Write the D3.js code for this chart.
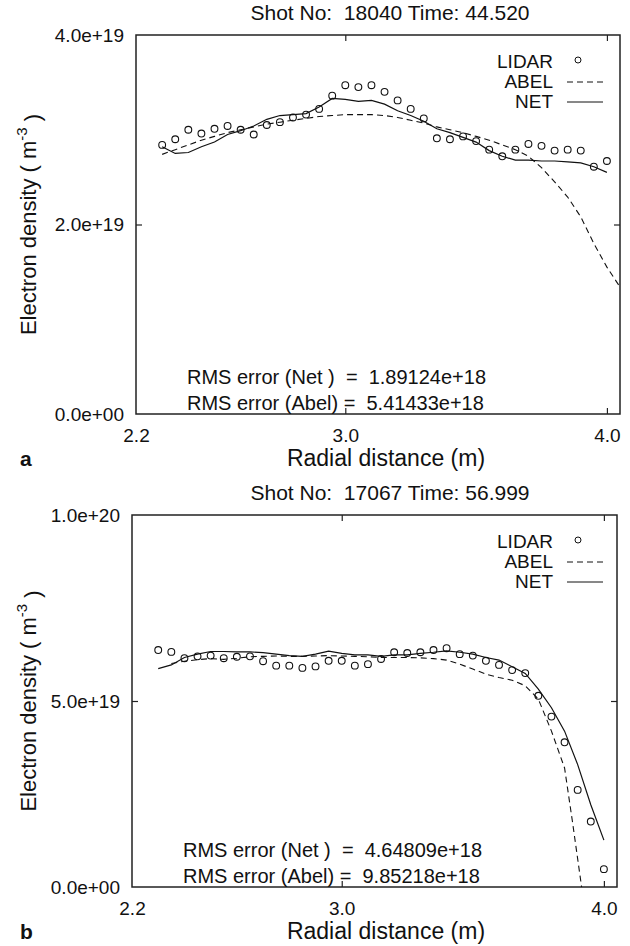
<!DOCTYPE html>
<html>
<head>
<meta charset="utf-8">
<script src="https://cdn.jsdelivr.net/npm/d3@7"></script>
<style>
  body { margin: 0; background: #fff; }
  svg { display: block; font-family: "Liberation Sans", Arial, sans-serif; }
  .tick text { font-size: 19px; fill: #111; }
  .tick line { stroke: #222; stroke-width: 1.2; }
  .pre { white-space: pre; }
</style>
</head>
<body>
<svg width="630" height="946"></svg>
<script>
// radial positions of the lidar samples (m)
const radial = [2.30, 2.35, 2.40, 2.45, 2.50, 2.55, 2.60, 2.65, 2.70, 2.75,
                2.80, 2.85, 2.90, 2.95, 3.00, 3.05, 3.10, 3.15, 3.20, 3.25,
                3.30, 3.35, 3.40, 3.45, 3.50, 3.55, 3.60, 3.65, 3.70, 3.75,
                3.80, 3.85, 3.90, 3.95, 4.00];

// panel a, shot 18040 (density in 1e19 m^-3)
const lidarA = [2.84, 2.90, 3.00, 2.96, 3.01, 3.04, 3.00, 2.95, 3.05, 3.08,
                3.13, 3.16, 3.22, 3.36, 3.47, 3.45, 3.47, 3.40, 3.31, 3.22,
                3.12, 2.91, 2.90, 2.93, 2.88, 2.79, 2.72, 2.79, 2.85, 2.83,
                2.78, 2.79, 2.78, 2.61, 2.67];
const netA = [2.82, 2.75, 2.76, 2.82, 2.87, 2.95, 2.99, 3.04, 3.11, 3.15,
              3.16, 3.17, 3.24, 3.33, 3.32, 3.30, 3.31, 3.27, 3.20, 3.15,
              3.09, 3.01, 2.97, 2.92, 2.87, 2.78, 2.72, 2.68, 2.68, 2.67,
              2.67, 2.66, 2.65, 2.61, 2.55];
const abelAx = [2.30, 2.35, 2.40, 2.45, 2.50, 2.55, 2.60, 2.65, 2.70, 2.75,
                2.80, 2.85, 2.90, 2.95, 3.00, 3.05, 3.10, 3.15, 3.20, 3.25,
                3.30, 3.35, 3.40, 3.45, 3.50, 3.55, 3.60, 3.65, 3.70, 3.75,
                3.80, 3.85, 3.90, 3.95, 4.00, 4.05];
const abelA = [2.74, 2.79, 2.84, 2.89, 2.93, 2.97, 3.00, 3.03, 3.06, 3.08,
               3.10, 3.12, 3.14, 3.15, 3.16, 3.16, 3.16, 3.15, 3.13, 3.10,
               3.07, 3.03, 3.00, 2.97, 2.93, 2.89, 2.84, 2.79, 2.72, 2.60,
               2.45, 2.29, 2.08, 1.80, 1.55, 1.34];

// panel b, shot 17067
const lidarB = [6.37, 6.32, 6.15, 6.20, 6.22, 6.15, 6.19, 6.20, 6.07, 5.95,
                5.95, 5.89, 5.93, 6.08, 6.08, 5.95, 5.99, 6.13, 6.31, 6.29,
                6.31, 6.37, 6.42, 6.26, 6.22, 6.08, 5.97, 5.83, 5.75, 5.14,
                4.58, 3.89, 2.61, 1.76, 0.48];
const netB = [5.87, 5.97, 6.17, 6.26, 6.33, 6.33, 6.32, 6.32, 6.30, 6.26,
              6.22, 6.20, 6.26, 6.34, 6.28, 6.24, 6.24, 6.20, 6.24, 6.24,
              6.28, 6.31, 6.35, 6.31, 6.26, 6.17, 6.10, 5.92, 5.74, 5.32,
              4.82, 4.19, 3.29, 2.21, 1.26];
const abelBx = [2.35, 2.40, 2.45, 2.50, 2.55, 2.60, 2.65, 2.70, 2.75, 2.80,
                2.85, 2.90, 2.95, 3.00, 3.05, 3.10, 3.15, 3.20, 3.25, 3.30,
                3.35, 3.40, 3.45, 3.50, 3.55, 3.60, 3.65, 3.70, 3.75, 3.80,
                3.85, 3.88, 3.915];
const abelB = [6.01, 6.07, 6.11, 6.14, 6.12, 6.15, 6.19, 6.20, 6.21, 6.20,
               6.20, 6.21, 6.22, 6.21, 6.20, 6.19, 6.17, 6.17, 6.17, 6.16,
               6.14, 6.10, 5.99, 5.86, 5.72, 5.63, 5.56, 5.41, 5.05, 4.19,
               3.20, 1.76, 0.00];

const xTicks = [2.2, 3.0, 4.0];
const legendNames = ['LIDAR', 'ABEL', 'NET'];

const panels = [
  {id: 'a', title: 'Shot No:  18040 Time: 44.520', top: 35, bottom: 414, left: 136, right: 620,
   yMax: 4, yTicks: [0, 2, 4], lidar: lidarA, net: netA, abelX: abelAx, abel: abelA,
   rms: ['RMS error (Net )  =  1.89124e+18', 'RMS error (Abel) =  5.41433e+18']},
  {id: 'b', title: 'Shot No:  17067 Time: 56.999', top: 515, bottom: 887, left: 132, right: 617,
   yMax: 10, yTicks: [0, 5, 10], lidar: lidarB, net: netB, abelX: abelBx, abel: abelB,
   rms: ['RMS error (Net )  =  4.64809e+18', 'RMS error (Abel) =  9.85218e+18']}
];

const svg = d3.select('svg');
const sci = d3.format('.1e');
const fmtY = d => {
  if (d === 0) return '0.0e+00';
  return sci(d * 1e19);
};

panels.forEach((p, k) => {
  const x = d3.scaleLinear().domain([2.2, 4.05]).range([p.left, p.right]);
  const y = d3.scaleLinear().domain([0, p.yMax]).range([p.bottom, p.top]);

  const g = svg.append('g');

  g.append('clipPath').attr('id', 'clip' + k)
    .append('rect')
    .attr('x', p.left).attr('y', p.top)
    .attr('width', p.right - p.left).attr('height', p.bottom - p.top);

  // axes (inward ticks)
  const xb = g.append('g').attr('transform', `translate(0,${p.bottom})`)
    .call(d3.axisBottom(x).tickValues(xTicks).tickSizeInner(-6).tickSizeOuter(0)
      .tickPadding(15).tickFormat(d3.format('.1f')));
  xb.select('.domain').remove();
  xb.selectAll('.tick').filter(d => d === 2.2).select('line').remove();

  const xt = g.append('g').attr('transform', `translate(0,${p.top})`)
    .call(d3.axisTop(x).tickValues([3.0, 4.0]).tickSizeInner(-6).tickSizeOuter(0).tickFormat(''));
  xt.select('.domain').remove();

  const yl = g.append('g').attr('transform', `translate(${p.left},0)`)
    .call(d3.axisLeft(y).tickValues(p.yTicks).tickSizeInner(-6).tickSizeOuter(0)
      .tickPadding(12).tickFormat(fmtY));
  yl.select('.domain').remove();
  yl.selectAll('.tick').filter(d => d === 0 || d === p.yMax).select('line').remove();

  const yr = g.append('g').attr('transform', `translate(${p.right},0)`)
    .call(d3.axisRight(y).tickValues([p.yTicks[1]]).tickSizeInner(-6).tickSizeOuter(0).tickFormat(''));
  yr.select('.domain').remove();

  // frame
  g.append('rect')
    .attr('x', p.left).attr('y', p.top)
    .attr('width', p.right - p.left).attr('height', p.bottom - p.top)
    .attr('fill', 'none').attr('stroke', '#222').attr('stroke-width', 1.5);

  const plot = g.append('g').attr('clip-path', `url(#clip${k})`);

  const line = d3.line().x(d => x(d[0])).y(d => y(d[1]));

  plot.append('path')
    .datum(d3.zip(p.abelX, p.abel))
    .attr('d', line)
    .attr('fill', 'none').attr('stroke', '#111').attr('stroke-width', 1.1)
    .attr('stroke-dasharray', '6,4');

  plot.append('path')
    .datum(d3.zip(radial, p.net))
    .attr('d', line)
    .attr('fill', 'none').attr('stroke', '#111').attr('stroke-width', 1.2);

  plot.selectAll('circle')
    .data(d3.zip(radial, p.lidar))
    .join('circle')
    .attr('cx', d => x(d[0])).attr('cy', d => y(d[1]))
    .attr('r', 3.4)
    .attr('fill', 'none').attr('stroke', '#111').attr('stroke-width', 1.1);

  // legend
  const lg = g.append('g').attr('transform', `translate(0,${p.top + 26})`);
  legendNames.forEach((name, i) => {
    lg.append('text')
      .attr('x', 553).attr('y', i * 20).attr('dy', '0.35em')
      .attr('text-anchor', 'end').attr('font-size', 19).attr('fill', '#111')
      .text(name);
  });
  lg.append('circle').attr('cx', 578).attr('cy', -1).attr('r', 3)
    .attr('fill', 'none').attr('stroke', '#111');
  lg.append('line').attr('x1', 567).attr('x2', 603).attr('y1', 21).attr('y2', 21)
    .attr('stroke', '#111').attr('stroke-dasharray', '6,4');
  lg.append('line').attr('x1', 567).attr('x2', 603).attr('y1', 41).attr('y2', 41)
    .attr('stroke', '#111');

  // title
  g.append('text')
    .attr('class', 'pre').attr('xml:space', 'preserve')
    .attr('x', 390).attr('y', p.top - 22).attr('dy', '0.35em')
    .attr('text-anchor', 'middle').attr('font-size', 21).attr('fill', '#111')
    .text(p.title);

  // rms errors
  p.rms.forEach((t, i) => {
    g.append('text')
      .attr('class', 'pre').attr('xml:space', 'preserve')
      .attr('x', p.left + 51).attr('y', p.bottom - 37 + i * 26).attr('dy', '0.35em')
      .attr('font-size', 20).attr('fill', '#111')
      .text(t);
  });

  // axis titles
  g.append('text')
    .attr('x', 386).attr('y', p.bottom + 44).attr('dy', '0.35em')
    .attr('text-anchor', 'middle').attr('font-size', 23).attr('fill', '#111')
    .text('Radial distance (m)');

  const yt = g.append('text')
    .attr('transform', `translate(28,${(p.top + p.bottom) / 2}) rotate(-90)`)
    .attr('text-anchor', 'middle').attr('dy', '0.35em')
    .attr('font-size', 22).attr('fill', '#111');
  yt.append('tspan').text('Electron density ( m');
  yt.append('tspan').attr('font-size', 15).attr('dy', '-0.6em').text('-3');
  yt.append('tspan').attr('dy', '0.6em').text(' )');

  g.append('text')
    .attr('x', 20).attr('y', p.bottom + 45).attr('dy', '0.35em')
    .attr('font-size', 21).attr('font-weight', 'bold').attr('fill', '#111')
    .text(p.id);
});
</script>
</body>
</html>
